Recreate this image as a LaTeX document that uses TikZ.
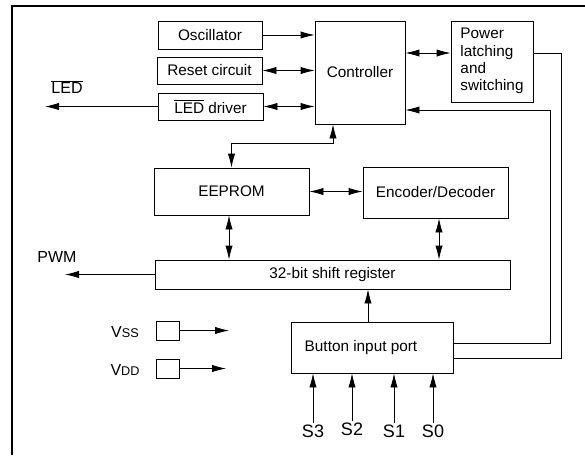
\documentclass[tikz,border=0pt]{standalone}
\usepackage{fontspec}
\setmainfont{Liberation Sans}
\usetikzlibrary{arrows.meta,calc}
\begin{document}
\begin{tikzpicture}[x=0.75pt,y=-0.75pt,
  font=\fontsize{11.5}{13}\selectfont,
  line width=0.6pt,
  blk/.style={draw,inner sep=0pt,align=center},
  arr/.style={-{Latex[length=10.5pt,width=5.5pt]}},
  barr/.style={{Latex[length=10.5pt,width=5.5pt]}-{Latex[length=10.5pt,width=5.5pt]}},
  txt/.style={inner sep=1pt},
  slab/.style={inner sep=1pt,font=\fontsize{13.5}{15}\selectfont}]
\useasboundingbox (0,0) rectangle (585,455);
% frame
\draw[line width=2pt] (12,455) -- (12,6) -- (585,6);
% blocks
\node[blk,minimum width=78pt,minimum height=21pt] (osc) at (210,35) {Oscillator};
\node[blk,minimum width=78.75pt,minimum height=20.25pt] (reset) at (209.5,70.5) {Reset circuit};
\node[blk,minimum width=78.75pt,minimum height=20.25pt] (ledd) at (210.5,106.5) {$\overline{\mbox{LED}}$ driver};
\node[blk,minimum width=67.5pt,minimum height=77.25pt] (ctrl) at (360,72.5) {Controller};
\node[blk,minimum width=61.5pt,minimum height=60.75pt] (power) at (492,61.5)
  {\begin{tabular}{@{}l@{}}Power\\latching\\and\\switching\end{tabular}};
\node[blk,minimum width=116.25pt,minimum height=35.25pt] (eeprom) at (231.5,191.5) {EEPROM};
\node[blk,minimum width=108.75pt,minimum height=38.25pt] (enc) at (435.5,192.5) {\raisebox{-3pt}{Encoder/Decoder}};
\node[blk,minimum width=266.25pt,minimum height=21.75pt] (shift) at (332.5,274.5) {32-bit shift register};
\node[blk,minimum width=121.5pt,minimum height=38.25pt] (button) at (372,347.5) {};
\node[txt,anchor=west] (buttontxt) at (303,348) {Button input port};
\node[blk,minimum width=17.25pt,minimum height=14.25pt] (vss) at (167.5,330.5) {};
\node[blk,minimum width=17.25pt,minimum height=14.25pt] (vdd) at (167.5,368.5) {};
% labels
\node[txt,font=\fontsize{12}{14}\selectfont] (ledlab) at (67,87) {$\overline{\mbox{LED}}$};
\node[txt,font=\fontsize{12}{14}\selectfont] (pwmlab) at (57,257) {PWM};
\node[txt,font=\fontsize{12}{14}\selectfont] (vsslab) at (125,332) {V{\fontsize{9.5}{10}\selectfont SS}};
\node[txt,font=\fontsize{12}{14}\selectfont] (vddlab) at (125,370) {V{\fontsize{9.5}{10}\selectfont DD}};
\node[slab] (S3) at (313,431) {S3};
\node[slab] (S2) at (352,429) {S2};
\node[slab] (S1) at (394,431) {S1};
\node[slab] (S0) at (433,431) {S0};
% helper coordinates
\coordinate (ledtip) at (45,106.5);
\coordinate (pwmtip) at (65,274.5);
\coordinate (vssend) at (229,330.5);
\coordinate (vddend) at (226,368.5);
\coordinate (y53) at (0,53);
\coordinate (y110) at (0,110);
\coordinate (y343) at (0,343);
\coordinate (y358) at (0,358);
\coordinate (x333) at (333,0);
\coordinate (x229) at (229,0);
\coordinate (x439) at (439,0);
\coordinate (x368) at (368,0);
\coordinate (rA) at (561,53);
\coordinate (rB) at (561,358);
\coordinate (rC) at (550,343);
\coordinate (rD) at (550,110);
\coordinate (cb) at (333,143);
% connectors
\draw[arr] (osc.east) -- (osc.east -| ctrl.west);
\draw[barr] (reset.east) -- (reset.east -| ctrl.west);
\draw[barr] (ledd.east) -- (ledd.east -| ctrl.west);
\draw[arr] (ledd.west) -- (ledtip);
\draw[barr] (ctrl.east |- y53) -- (power.west |- y53);
\draw (power.east |- y53) -- (rA) -- (rB) -- (button.east |- y358);
\draw[arr] (button.east |- y343) -- (rC) -- (rD) -- (ctrl.east |- y110);
\draw[barr] (ctrl.south -| x333) -- (cb) -| (eeprom.north);
\draw[barr] (eeprom.east) -- (eeprom.east -| enc.west);
\draw[barr] (eeprom.south -| x229) -- (shift.north -| x229);
\draw[barr] (enc.south -| x439) -- (shift.north -| x439);
\draw[arr] (shift.west) -- (pwmtip);
\draw[arr] (button.north -| x368) -- (shift.south -| x368);
\draw[arr] (vss.east) -- (vssend);
\draw[arr] (vdd.east) -- (vddend);
\draw[arr] (S3.north) -- (S3.north |- button.south);
\draw[arr] (S2.north) -- (S2.north |- button.south);
\draw[arr] (S1.north) -- (S1.north |- button.south);
\draw[arr] (S0.north) -- (S0.north |- button.south);
\end{tikzpicture}
\end{document}
